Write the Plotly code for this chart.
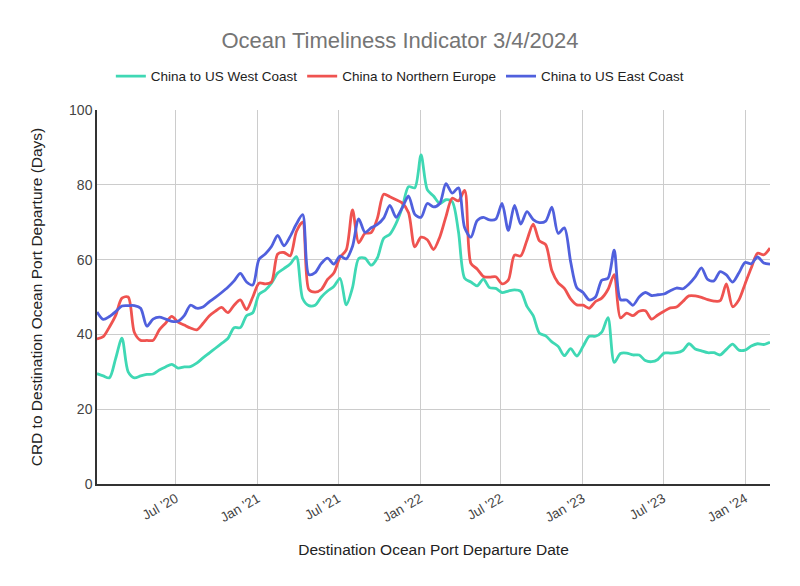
import pandas as pd
import plotly.graph_objects as go

dates = pd.date_range("2020-01-06", periods=109, freq="14D")

west_coast = [29.5, 28.9, 28.4, 33.6, 39.0, 30.0, 28.4, 28.9, 29.3, 29.4,
              30.5, 31.3, 32.0, 31.0, 31.3, 31.4, 32.3, 33.7, 35.0, 36.3,
              37.6, 38.9, 41.8, 41.8, 45.0, 45.8, 50.7, 51.8, 53.7, 56.4,
              57.6, 58.8, 60.8, 49.6, 47.7, 47.8, 50.0, 51.6, 52.8, 55.0,
              47.9, 52.5, 60.3, 60.4, 58.5, 60.5, 65.7, 66.8, 69.7, 74.0,
              79.5, 79.2, 88.0, 78.7, 77.0, 75.0, 76.0, 75.5, 67.5, 55.0,
              54.0, 53.0, 54.8, 52.5, 52.3, 51.2, 51.6, 51.9, 51.5, 47.5,
              45.0, 40.3, 39.6, 38.0, 36.8, 34.3, 36.2, 34.2, 36.8, 39.5,
              39.5, 40.6, 44.5, 32.5, 34.9, 35.0, 34.5, 34.5, 33.0, 32.7,
              33.3, 35.0, 35.0, 35.1, 35.7, 37.5, 36.1, 35.6, 35.1, 35.1,
              34.5, 36.0, 37.4, 35.8, 35.8, 36.9, 37.5, 37.3, 37.9]

northern_europe = [38.8, 39.4, 42.0, 45.1, 49.7, 50.0, 40.5, 38.4, 38.4, 38.4,
                   41.2, 43.0, 44.8, 43.3, 42.5, 41.7, 41.2, 42.9, 44.9, 46.2,
                   47.2, 45.8, 47.8, 49.2, 46.6, 50.0, 53.7, 53.5, 54.0, 61.5,
                   61.9, 61.0, 67.5, 70.0, 52.0, 51.3, 52.0, 54.7, 56.4, 60.6,
                   62.6, 73.3, 64.5, 67.0, 67.2, 71.1, 77.5, 76.8, 76.0, 75.1,
                   72.5, 63.4, 66.0, 65.3, 62.7, 66.0, 71.5, 76.4, 75.7, 78.5,
                   59.0, 57.5, 55.5, 55.3, 55.4, 53.5, 54.5, 61.2, 61.0, 65.2,
                   69.5, 65.0, 64.0, 57.0, 53.8, 52.3, 49.5, 47.9, 47.8, 47.0,
                   48.8, 49.7, 52.0, 56.0, 44.4, 45.7, 45.0, 46.2, 46.3, 44.1,
                   45.2, 46.2, 47.1, 47.3, 48.8, 50.3, 50.3, 49.9, 49.3, 48.9,
                   49.0, 53.5, 47.4, 49.2, 53.5, 57.8, 61.7, 61.3, 63.1]

east_coast = [46.0, 44.0, 44.8, 46.1, 47.6, 47.7, 47.7, 47.0, 42.2, 44.1,
              44.6, 44.1, 43.5, 43.5, 45.0, 47.8, 47.0, 47.3, 48.7, 49.9,
              51.2, 52.6, 54.3, 56.3, 54.0, 53.2, 60.1, 61.5, 63.5, 66.5,
              63.7, 66.2, 69.5, 72.0, 56.0, 56.5, 59.0, 60.4, 58.8, 60.9,
              60.2, 63.5, 70.9, 67.3, 68.5, 69.4, 71.1, 74.5, 71.3, 73.9,
              77.0, 72.1, 71.3, 75.0, 74.1, 75.0, 80.3, 77.8, 79.2, 68.5,
              66.0, 70.4, 71.3, 70.6, 70.8, 75.0, 67.8, 74.5, 69.5, 72.8,
              70.7, 69.9, 70.3, 74.0, 67.0, 68.5, 59.5, 52.5, 51.2, 49.2,
              50.0, 54.5, 55.0, 62.5, 49.3, 49.2, 47.8, 50.0, 51.2, 50.4,
              50.6, 50.8, 51.7, 52.4, 52.2, 53.5, 55.4, 57.8, 54.7, 54.3,
              56.8, 55.9, 54.0, 56.4, 59.2, 58.9, 60.7, 59.1, 58.8]

series_names = ["China to US West Coast", "China to Northern Europe", "China to US East Coast"]
series_colors = ["#3fd8b4", "#ef5350", "#5060dd"]

tick_dates = ["2020-07-01", "2021-01-01", "2021-07-01", "2022-01-01",
              "2022-07-01", "2023-01-01", "2023-07-01", "2024-01-01"]
tick_labels = ["Jul '20", "Jan '21", "Jul '21", "Jan '22",
               "Jul '22", "Jan '23", "Jul '23", "Jan '24"]

fig = go.Figure()
for name, vals, col in zip(series_names, [west_coast, northern_europe, east_coast], series_colors):
    fig.add_trace(go.Scatter(x=dates, y=vals, name=name, mode="lines",
                             line=dict(color=col, width=2.8, shape="spline", smoothing=0.8)))

font_family = "Liberation Sans, Arial, sans-serif"
fig.update_layout(
    width=800, height=586,
    paper_bgcolor="white", plot_bgcolor="white",
    margin=dict(l=97, r=30, t=110, b=102),
    font=dict(family=font_family, color="#444444", size=13),
    title=dict(text="Ocean Timeliness Indicator 3/4/2024", x=0.5, xanchor="center",
               y=0.932, yanchor="middle", font=dict(size=22, color="#757575")),
    legend=dict(orientation="h", x=0.45, xanchor="center",
                y=1.09, yanchor="middle",
                font=dict(size=13.5, color="#222222"), itemwidth=30, traceorder="normal"),
    showlegend=True,
)
fig.update_xaxes(
    range=[dates[0], dates[-1]],
    tickvals=pd.to_datetime(tick_dates), ticktext=tick_labels, tickangle=-30,
    showgrid=True, gridcolor="#cccccc", gridwidth=1,
    showline=True, linecolor="#333333", linewidth=1.5,
    ticks="", tickfont=dict(size=13.5, color="#444444"),
    title=dict(text="Destination Ocean Port Departure Date", font=dict(size=15.5, color="#222222"), standoff=20),
    zeroline=False,
)
fig.update_yaxes(
    range=[0, 100], dtick=20, tick0=0,
    showgrid=True, gridcolor="#cccccc", gridwidth=1,
    showline=True, linecolor="#333333", linewidth=1.5,
    ticks="", tickfont=dict(size=14, color="#444444"),
    title=dict(text="CRD to Destination Ocean Port Departure (Days)", font=dict(size=15.5, color="#222222"), standoff=23),
    zeroline=False,
)

fig.write_html("out.html")
